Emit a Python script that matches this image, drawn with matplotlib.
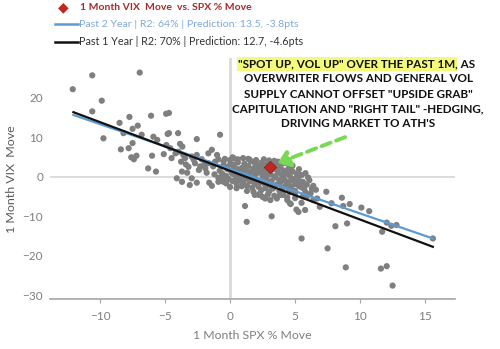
import matplotlib
matplotlib.use("Agg")
import matplotlib.pyplot as plt
from matplotlib.lines import Line2D

plt.rcParams['font.family'] = ['Lato', 'DejaVu Sans']

# 1-month SPX % move vs 1-month VIX move
spx_move = [
    -12.1, -10.6, -6.95, -9.87, -10.6, -9.74, -8.5, -7.74, -6.08, -4.92, -4.7,
    -7.1, -7.5, -8.2, -6.8, -7.5, -7.8, -8.4, -5.9, -5.6, -4.7,
    -7.6, -7.4, -7.2, -6.0, -5.1, -6.3, -5.7,
    -4.8, -4.0, -2.56, -0.77, -3.85, -3.67, -3.97, -4.2, -3.6, -3.46, -3.77,
    -2.95, -2.56, -2.18, -1.67, -1.4, -1.0, -1.15, -1.67, -2.7, -3.2, -2.4,
    -1.9, -0.5, -0.38, 0.0, 0.25, -3.7, -3.3, -4.1, -3.7, -2.95, -3.1, -2.56,
    -1.6, -1.4, -0.5, -0.9, 0.4, 0.4, -4.5, -4.6, -4.9,
    -2.0, -1.3, -0.9, -2.8, -3.4, -2.3, -1.8, -0.7, -1.2, 0.3, 1.5,
    -0.8, -0.6, -0.5, -0.3, -0.2, -0.1, 0.0, 0.1, 0.2, 0.3, 0.4, 0.5, 0.6,
    0.7, 0.8, 0.9, 1.0, 1.0,
    1.1, 1.2, 1.2, 1.3, 1.4, 1.4, 1.5, 1.6, 1.6, 1.7, 1.8, 1.8, 1.9, 2.0, 2.0,
    2.1, 2.2, 2.2, 2.3, 2.4, 2.4, 2.5, 2.6, 2.6, 2.7, 2.8, 2.8, 2.9, 3.0, 3.0,
    3.1, 3.2, 3.3, 3.3, 3.5, 3.5, 3.6, 3.7, 3.8, 3.8, 3.9, 4.0, 4.0,
    4.1, 4.2, 4.3, 4.4, 4.5, 4.5, 4.6, 4.7, 4.8, 4.9, 5.0, 5.0,
    5.2, 5.3, 5.4, 5.6, 5.7, 5.9, 6.1, 6.2,
    3.4, 4.6, 2.2, 2.7, 3.85, 4.4, 1.9, 2.5, 3.1, 3.6, 4.1, 5.0,
    1.15, 1.28, 3.2, 5.1, 5.5, 7.5, 8.9, 11.6, 12.05, 12.5,
    8.1, 9.0, 11.7, 12.05, 12.4, 12.8, 15.6, 10.1, 10.7,
    7.4, 8.6, 8.7, 9.2, 7.8, 6.9, 6.3, 6.7, 6.4, 5.77, 5.26, 4.67, 5.5, 5.9,
    6.3, 5.4, 5.5, 4.6,
    -0.4, 0.2, 0.6, 1.0, 1.4, 2.0, 2.6, 3.0, 3.7, 4.3, 4.8, 5.3, 5.8, 6.0,
    0.0, 0.5, 0.9, 1.3, 1.8, 2.3, 2.9, 3.4, 3.9, 4.4, 5.0, 5.6,
    -0.3, 0.6, 0.8, 1.1, 1.5, 1.7, 2.1, 2.3, 2.5, 2.7, 2.9, 3.1, 3.2, 3.4,
    3.6, 3.8, 4.0, 4.2, 4.4, 4.6, 4.7, 5.1, 5.3, 5.5, 0.2, 0.5, -0.5, -0.9,
    1.9, 3.9, 4.5, 5.8, 6.4, 6.6,
]
vix_move = [
    22.1, 25.6, 26.3, 19.2, 16.5, 9.7, 13.6, 15.1, 15.4, 15.9, 16.1,
    12.9, 12.1, 11.0, 10.6, 8.5, 7.2, 6.9, 10.1, 9.3, 11.0,
    4.9, 4.4, 5.3, 5.3, 5.7, 2.1, 1.3,
    10.8, 11.0, 9.5, 10.6, 8.3, 7.6, 6.3, 5.9, 5.5, 4.7, 3.8,
    5.1, 5.5, 4.4, 5.9, 6.8, 5.5, 3.8, 3.4, 3.4, 2.5, 1.7,
    2.1, 3.8, 2.5, 4.2, 3.0, 1.3, 1.0, -0.4, -1.3, -0.4, -2.1, -1.5,
    -1.5, -2.3, -1.3, -1.3, -0.8, 0.4, 4.7, 7.2, 8.0,
    3.0, 2.6, 4.4, 4.3, 3.1, 2.6, 1.0, -0.1, 0.6, 4.6, 4.3,
    1.5, 0.8, 2.9, 0.2, 1.9, -0.6, 3.1, 1.2, -1.1, 2.4, 0.5, -1.8, 3.6,
    1.6, -0.3, 2.2, -1.4, 0.9,
    3.3, 1.8, -0.5, -2.3, 2.7, 0.4, -1.2, 3.9, 1.3, -2.8, 2.1, -0.1, -1.9, 3.0, 0.7,
    -0.9, 2.4, -2.6, 1.1, -3.4, 3.5, 0.2, -1.6, 1.9, -2.9, 3.0, -0.4, 1.4, -2.2, -3.8,
    0.6, -1.1, 1.9, -3.0, 3.1, -0.2, -2.0, 1.0, -3.6, 2.4, -1.3, 0.3, -2.7,
    1.6, -0.8, -2.2, 0.9, -3.3, -1.5, 0.2, -2.6, 1.4, -0.6, -1.9, -3.6,
    -0.3, -2.4, 0.4, -1.3, -3.1, -2.0, -0.9, -4.2,
    4.0, 2.5, -4.6, -5.5, -4.6, -5.9, -4.6, -5.1, -5.9, -5.5, -4.6, -4.2,
    -7.4, -11.4, -10.0, -8.3, -15.6, -18.1, -22.9, -23.2, -22.6, -27.5,
    -12.5, -11.8, -13.9, -11.6, -12.4, -12.2, -15.6, -7.8, -8.7,
    -3.8, -5.3, -7.4, -6.9, -6.7, -7.6, -3.1, -5.5, -5.9, -8.4, -8.9, -6.9, -6.6, -5.1,
    -2.9, -2.1, 0.4, -6.7,
    4.5, 4.9, 4.4, 4.7, 4.5, 4.2, 4.4, 4.1, 3.8, 3.4, 2.8, 1.9, 0.9, -0.2,
    -2.6, -2.9, -2.4, -3.6, -3.8, -4.2, -4.5, -4.8, -4.4, -5.2, -5.4, -5.0,
    -1.7, 0.1, -1.0, 2.5, 1.0, -0.9, 1.6, -1.4, 2.9, 0.7, -1.5, 2.6, -2.5, 0.1,
    1.6, -0.9, -3.5, 0.6, -1.4, -3.9, -0.9, 0.8, -1.0, -2.7, 0.7, 2.0, -0.9, -0.3,
    3.5, 2.9, 2.0, -3.9, -2.3, -3.3,
]

# latest observation
current_spx = 3.08
current_vix = 2.4

# regression fits: (slope, intercept) over the sample's x range
fit_2y = (-1.128, 2.0)
fit_1y = (-1.23, 1.48)
fit_x = [-12.05, 15.6]

x_ticks = [-10, -5, 0, 5, 10, 15]
y_ticks = [-30, -20, -10, 0, 10, 20]

W, H = 500, 349
fig = plt.figure(figsize=(W / 100, H / 100), dpi=100)
ax = fig.add_axes([0.10, 0.142, 0.81, 0.692])
ax.set_xlim(-13.85, 17.3)
ax.set_ylim(-31, 30)


def fit_width(txt, target_px, vertical=False):
    """Rescale a text's font size so its rendered extent spans target_px."""
    fig.canvas.draw()
    bb = txt.get_window_extent()
    size = bb.height if vertical else bb.width
    txt.set_fontsize(txt.get_fontsize() * target_px / size)


ax.axhline(0, color='#d9d9d9', lw=1.3, zorder=0)
ax.axvline(0, color='#d9d9d9', lw=2.0, zorder=0)

ax.scatter(spx_move, vix_move, s=20, color='#7f7f7f', edgecolors='none', zorder=2)

blue = '#5b9bd5'
y2 = [fit_2y[0] * x + fit_2y[1] for x in fit_x]
y1 = [fit_1y[0] * x + fit_1y[1] for x in fit_x]
ax.plot(fit_x, y2, color=blue, lw=1.6, zorder=3)
ax.plot(fit_x, y1, color='#111111', lw=1.6, zorder=3)

ax.scatter([current_spx], [current_vix], marker='D', s=40, color='#c0281f',
           edgecolors='#8e1c14', linewidths=0.5, zorder=5)

# arrow pointing at the latest observation
ax.annotate('', xy=(current_spx + 0.55, current_vix + 1.0), xytext=(8.85, 10.0),
            arrowprops=dict(arrowstyle='-|>,head_length=0.7,head_width=0.5',
                            color='#7ad857', lw=2.8, linestyle=(0, (2.5, 1.5)),
                            shrinkA=0, shrinkB=0),
            zorder=6)

for s in ['top', 'right', 'left']:
    ax.spines[s].set_visible(False)
ax.spines['bottom'].set_color('#a6a6a6')
ax.spines['bottom'].set_linewidth(1.2)

ax.set_xticks(x_ticks)
ax.set_yticks(y_ticks)
ax.tick_params(axis='x', colors='#a6a6a6', labelcolor='#7f7f7f', length=3,
               labelsize=8.5, pad=5)
ax.tick_params(axis='y', length=0, labelcolor='#7f7f7f', labelsize=8.5, pad=5)

xl = ax.set_xlabel('1 Month SPX % Move', color='#7f7f7f', fontsize=9, labelpad=6)
yl = ax.set_ylabel('1 Month VIX  Move', color='#595959', fontsize=9, labelpad=4)
fit_width(xl, 119)
fit_width(yl, 108, vertical=True)

# legend block
fig.text(63 / W, 1 - 7.3 / H, '\u25c6', color='#c0281f', fontsize=10,
         ha='center', va='center', family=['DejaVu Sans'])
l1 = fig.text(80 / W, 1 - 7.3 / H, '1 Month VIX  Move  vs. SPX % Move',
              color='#a52a2a', fontsize=8.8, fontweight='bold', va='center')
fit_width(l1, 172)
fig.add_artist(Line2D([55 / W, 78 / W], [1 - 24.3 / H] * 2, color=blue, lw=1.8))
l2 = fig.text(79 / W, 1 - 24.3 / H,
              'Past 2 Year | R2: 64% | Prediction: 13.5, -3.8pts',
              color='#7fa8db', fontsize=8, va='center')
fit_width(l2, 218)
fig.add_artist(Line2D([55 / W, 78 / W], [1 - 41.7 / H] * 2, color='#111111', lw=1.8))
l3 = fig.text(79 / W, 1 - 41.7 / H,
              'Past 1 Year | R2: 70% | Prediction: 12.7, -4.6pts',
              color='#333333', fontsize=8, va='center')
fit_width(l3, 223)

# commentary box
note_lines = [
    'OVERWRITER FLOWS AND GENERAL VOL',
    'SUPPLY CANNOT OFFSET "UPSIDE GRAB"',
    'CAPITULATION AND "RIGHT TAIL" -HEDGING,',
    "DRIVING MARKET TO ATH'S",
]
cx = 358 / W
t1 = fig.text(238 / W, 1 - 64 / H, '"SPOT UP, VOL UP" OVER THE PAST 1M',
              fontsize=8.4, fontweight='bold', color='#111111', va='center',
              bbox=dict(boxstyle='square,pad=0.12', facecolor='#f4fb7a',
                        edgecolor='none'))
fig.canvas.draw()
bb = t1.get_window_extent()
fig.text(bb.x1 / fig.bbox.width, 1 - 64 / H, ', AS', fontsize=8.4,
         fontweight='bold', color='#111111', va='center')
for i, line in enumerate(note_lines):
    fig.text(cx, 1 - (79 + 15.0 * i) / H, line, fontsize=8.4,
             fontweight='bold', color='#111111', ha='center', va='center')

fig.savefig('out.png', dpi=100)
